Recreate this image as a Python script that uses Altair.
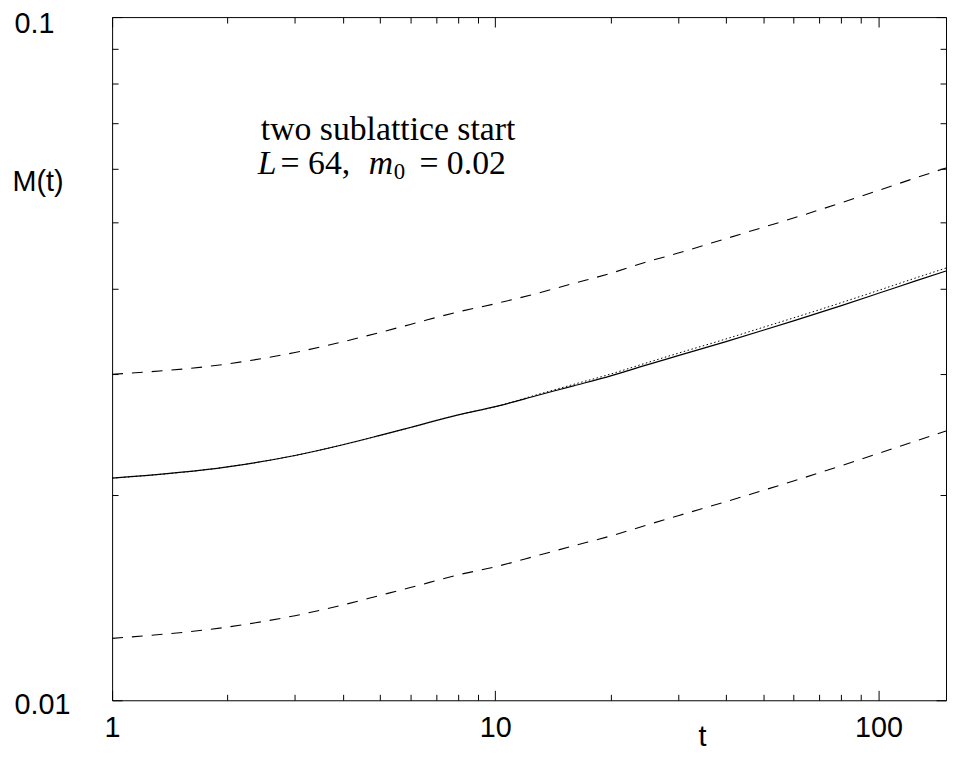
import altair as alt
import pandas as pd

# ---- data ----
t_vals = [1, 2, 3, 4, 5, 6, 8, 10, 13, 16, 20, 25, 30, 40, 50, 60, 80, 100, 125, 150]
m_solid = [0.02114, 0.02196, 0.02282, 0.02366, 0.02442, 0.02508, 0.02617, 0.02690, 0.02798, 0.02886,
           0.02985, 0.03100, 0.03195, 0.03350, 0.03480, 0.03592, 0.03782, 0.03942, 0.04110, 0.04250]
m_dotted = [0.02114, 0.02196, 0.02282, 0.02366, 0.02442, 0.02508, 0.02617, 0.02690, 0.02806, 0.02900,
            0.03003, 0.03122, 0.03221, 0.03380, 0.03515, 0.03628, 0.03820, 0.03981, 0.04151, 0.04292]
m_upper = [0.03000, 0.03107, 0.03229, 0.03348, 0.03455, 0.03549, 0.03703, 0.03806, 0.03948, 0.04075,
           0.04217, 0.04387, 0.04514, 0.04740, 0.04924, 0.05080, 0.05349, 0.05575, 0.05816, 0.06014]
m_lower = [0.01232, 0.01280, 0.01330, 0.01379, 0.01424, 0.01462, 0.01526, 0.01568, 0.01631, 0.01683,
           0.01740, 0.01807, 0.01863, 0.01953, 0.02029, 0.02094, 0.02205, 0.02298, 0.02396, 0.02478]

x_ticks = [1, 2, 3, 4, 5, 6, 7, 8, 9, 10, 20, 30, 40, 50, 60, 70, 80, 90, 100]
y_ticks = [0.01, 0.02, 0.03, 0.04, 0.05, 0.06, 0.07, 0.08, 0.09, 0.1]
x_domain = [1, 150]
y_domain = [0.01, 0.1]

note_line1 = "two sublattice start"
note_t = [2.4]
note_m1 = [0.0661]
note_m2 = [0.05897]

df = pd.DataFrame({"t": t_vals, "solid": m_solid, "dotted": m_dotted,
                   "upper": m_upper, "lower": m_lower})
note1 = pd.DataFrame({"t": note_t, "M": note_m1})
note2 = pd.DataFrame({"t": note_t, "M": note_m2})

xscale = alt.Scale(type="log", domain=x_domain, nice=False)
yscale = alt.Scale(type="log", domain=y_domain, nice=False)

MAJOR = "abs(log(datum.value)/LN10 - round(log(datum.value)/LN10)) < 0.001"
tick_dash = {"condition": {"test": MAJOR, "value": [20, 1]}, "value": [0, 4, 6, 20]}
SANS = "Liberation Sans"
SERIF = "Liberation Serif"


def ax(**kw):
    d = dict(domain=False, grid=False, tickSize=10, tickColor="black", tickWidth=1,
             tickDash=tick_dash, offset=-10)
    d.update(kw)
    return alt.Axis(**d)


x_bottom = ax(orient="bottom", values=x_ticks, format="~g",
              labelExpr="datum.value == 1 || datum.value == 10 || datum.value == 100 ? datum.label : ''",
              labelFont=SANS, labelFontSize=29, labelColor="black", labelPadding=14,
              labelFlush=False, labelOverlap=False,
              title="t", titleFont=SANS, titleFontSize=29, titleFontWeight="normal",
              titleColor="black", titleX=595, titleY=56, titleBaseline="alphabetic",
              titleAlign="center")
y_left = ax(orient="left", values=y_ticks, format="~g",
            labelExpr="datum.value == 0.01 || datum.value == 0.1 ? datum.label : ''",
            labelFont=SANS, labelFontSize=29, labelColor="black", labelAlign="left",
            labelBaseline="middle", labelPadding=99,
            labelOffset={"condition": {"test": "datum.value > 0.05", "value": 7}, "value": 4},
            labelFlush=False, labelOverlap=False,
            title="M(t)", titleFont=SANS, titleFontSize=29, titleFontWeight="normal",
            titleColor="black", titleAngle=0, titleAlign="left", titleBaseline="middle",
            titleX=-111, titleY=166)
x_top = ax(orient="top", values=x_ticks, labels=False, title=None)
y_right = ax(orient="right", values=y_ticks, labels=False, title=None)

base = alt.Chart(df)

upper = base.mark_line(color="black", strokeWidth=1.1, strokeDash=[11, 9],
                       interpolate="monotone").encode(
    x=alt.X("t:Q", scale=xscale, axis=x_bottom),
    y=alt.Y("upper:Q", scale=yscale, axis=y_left),
)
lower = base.mark_line(color="black", strokeWidth=1.1, strokeDash=[11, 9],
                       interpolate="monotone").encode(
    x=alt.X("t:Q", scale=xscale, axis=x_top),
    y=alt.Y("lower:Q", scale=yscale, axis=y_right),
)
dotted = base.mark_line(color="black", strokeWidth=1, strokeDash=[1.5, 2.5],
                        interpolate="monotone").encode(
    x=alt.X("t:Q", scale=xscale, axis=None),
    y=alt.Y("dotted:Q", scale=yscale, axis=None),
)
solid = base.mark_line(color="black", strokeWidth=1.2, interpolate="monotone").encode(
    x=alt.X("t:Q", scale=xscale, axis=None),
    y=alt.Y("solid:Q", scale=yscale, axis=None),
)


def txt(data, text, dx=0, dy=0, size=34, style="normal"):
    return alt.Chart(data).mark_text(
        text=text, font=SERIF, fontSize=size, fontStyle=style, color="black",
        align="left", baseline="alphabetic", dx=dx, dy=dy,
    ).encode(
        x=alt.X("t:Q", scale=xscale, axis=None),
        y=alt.Y("M:Q", scale=yscale, axis=None),
    )


texts = [
    txt(note1, note_line1, dx=3),
    txt(note2, "L", style="italic"),
    txt(note2, "= 64,", dx=23),
    txt(note2, "m", dx=112, style="italic"),
    txt(note2, "0", dx=137, dy=5, size=23),
    txt(note2, "= 0.02", dx=163),
]

chart = alt.layer(upper, lower, dotted, solid, *texts).resolve_axis(
    x="independent", y="independent"
).properties(
    width=841, height=689,
    autosize=alt.AutoSizeParams(type="none"),
    padding={"left": 105, "top": 6, "right": 1, "bottom": 50},
    background="white",
).configure_view(stroke="black", strokeWidth=1)

chart.save("out.html", embed_options={"renderer": "svg", "actions": False})
